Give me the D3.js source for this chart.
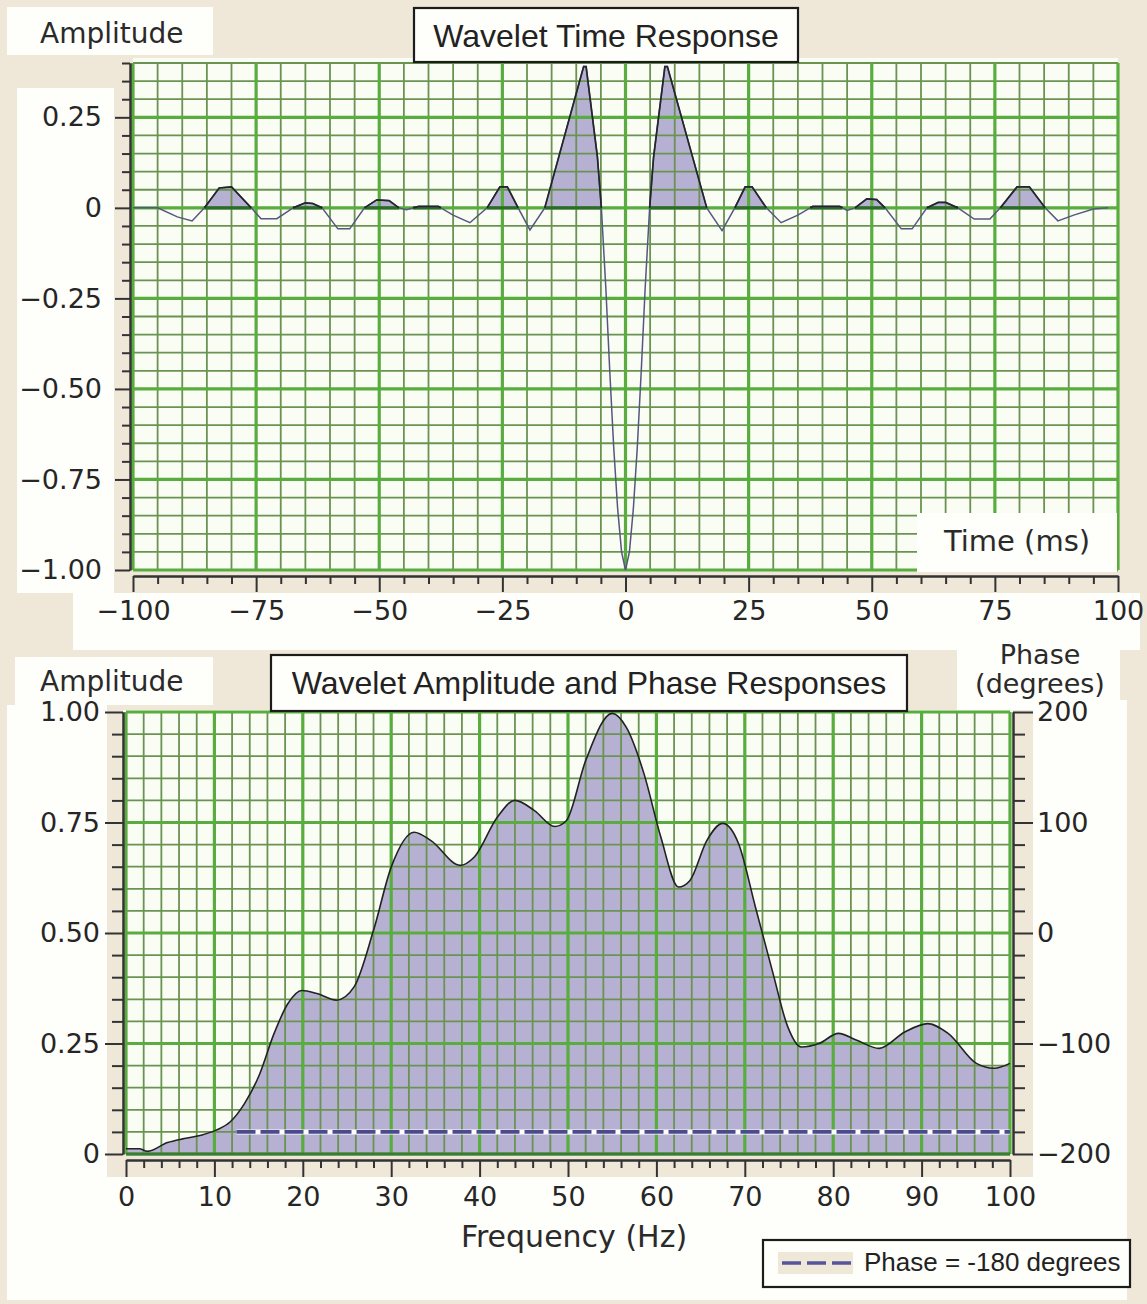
<!DOCTYPE html>
<html>
<head>
<meta charset="utf-8">
<script src="https://cdn.jsdelivr.net/npm/d3@7"></script>
<style>
  html, body { margin: 0; padding: 0; background: #efe8d8; }
  svg { display: block; }
</style>
</head>
<body>
<svg id="chart" width="1147" height="1304"></svg>
<script>
// ---- Wavelet time response (ms, amplitude) ----
const timeMs = [-100, -95, -91, -88, -85.5, -82.5, -80, -76, -74, -70.8, -67.5, -65, -63.5, -61.6,
  -58.4, -56, -53, -50.5, -48, -46, -44.5, -42, -38, -35, -31.6, -28.1, -25.5, -24, -21.8,
  -19.4, -16.4, -8.5, -8, -5.7, -4.9, -4, -3.2, -2.4, -1.6, -0.8, 0,
  0.8, 1.6, 2.4, 3.2, 4, 4.9, 5.7, 8, 8.5, 16.5, 19.6, 22.2, 24.3, 25.7, 28.6, 31.6, 35, 38,
  43.5, 45, 46.6, 49, 51, 52.7, 56, 58.2, 61.2, 63.5, 65, 67.5, 70.8, 74, 76.1, 79.5, 82,
  85.2, 87.8, 91, 95, 98];
const timeAmp = [0, 0, -0.025, -0.036, 0, 0.055, 0.058, 0, -0.03, -0.03, 0, 0.014, 0.012, 0,
  -0.058, -0.058, 0, 0.022, 0.02, 0, -0.005, 0.004, 0.004, -0.02, -0.041, 0, 0.058, 0.058, 0,
  -0.061, 0, 0.39, 0.39, 0.14, 0, -0.22, -0.45, -0.66, -0.83, -0.95, -1.0,
  -0.95, -0.83, -0.66, -0.45, -0.22, 0, 0.14, 0.39, 0.39, 0, -0.063, 0, 0.058, 0.058, 0, -0.041, -0.02, 0.004,
  0.004, -0.007, 0, 0.025, 0.023, 0, -0.058, -0.058, 0, 0.015, 0.015, 0, -0.031, -0.031, 0, 0.058, 0.058,
  0, -0.036, -0.02, -0.003, 0];

// ---- Wavelet amplitude spectrum (Hz, normalised amplitude) ----
const freqHz = [0, 1.5, 2.4, 4.7, 6.6, 8.6, 10.2, 11.8, 13.4, 15.1, 16.7, 18.3, 19.9, 21.6, 23.8,
  25.8, 28, 30, 32.6, 34.5, 37.8, 39.4, 42, 44, 46.2, 48.5, 49.8, 52, 55, 56.6, 58.6, 60.5,
  62.5, 63.8, 65.7, 67.5, 69.3, 71.2, 73.2, 74.8, 76.4, 78.4, 80.6, 82.6, 85.2, 88.1, 90.7,
  93, 96.2, 98.2, 100];
const freqAmp = [0.012, 0.012, 0.006, 0.026, 0.035, 0.043, 0.054, 0.073, 0.114, 0.18, 0.27, 0.34,
  0.37, 0.363, 0.348, 0.378, 0.506, 0.649, 0.728, 0.709, 0.653, 0.672, 0.762, 0.80, 0.777,
  0.741, 0.754, 0.89, 0.997, 0.965, 0.86, 0.717, 0.604, 0.619, 0.709, 0.748, 0.702, 0.559,
  0.408, 0.291, 0.242, 0.25, 0.273, 0.258, 0.239, 0.276, 0.295, 0.273, 0.205, 0.194, 0.205];

// ---- Phase spectrum (constant) ----
const phaseFreq = [12.5, 100];
const phaseDeg = [-180, -180];

// ---- Tick values and labels ----
const timeTicks = [-100, -75, -50, -25, 0, 25, 50, 75, 100];
const timeTickLabels = ["\u2212100", "\u221275", "\u221250", "\u221225", "0", "25", "50", "75", "100"];
const topAmpTicks = [0.25, 0, -0.25, -0.5, -0.75, -1.0];
const topAmpLabels = ["0.25", "0", "\u22120.25", "\u22120.50", "\u22120.75", "\u22121.00"];
const freqTicks = [0, 10, 20, 30, 40, 50, 60, 70, 80, 90, 100];
const freqTickLabels = ["0", "10", "20", "30", "40", "50", "60", "70", "80", "90", "100"];
const botAmpTicks = [0, 0.25, 0.5, 0.75, 1.0];
const botAmpLabels = ["0", "0.25", "0.50", "0.75", "1.00"];
const phaseTicks = [-200, -100, 0, 100, 200];
const phaseTickLabels = ["\u2212200", "\u2212100", "0", "100", "200"];

// ---- Styling ----
const BEIGE = "#efe8d8", WHITE = "#fefefb", PLOT_BG = "#fafdf4";
const MINOR = "#6a9352", MAJOR = "#58ad3e";
const FILL = "#b6b0d2";
const NUM_FONT = "'DejaVu Sans', sans-serif";
const TITLE_FONT = "'Liberation Sans', Arial, sans-serif";

const svg = d3.select("#chart");
svg.append("rect").attr("width", 1147).attr("height", 1304).attr("fill", BEIGE);

// white label panels
const panels = [
  [7, 7, 206, 48], [17, 88, 97, 505], [73, 593, 1067, 57],
  [15, 657, 198, 48], [7, 705, 100, 472], [957, 637, 163, 73],
  [1033, 700, 94, 477], [7, 1177, 1120, 123]
];
svg.selectAll("rect.panel").data(panels).enter().append("rect")
  .attr("class", "panel")
  .attr("x", d => d[0]).attr("y", d => d[1]).attr("width", d => d[2]).attr("height", d => d[3])
  .attr("fill", WHITE);

// ---- scales ----
const xT = d3.scaleLinear().domain([-100, 100]).range([133, 1118]);
const yT = d3.scaleLinear().domain([-1, 0.4]).range([570, 63]);
const xB = d3.scaleLinear().domain([0, 100]).range([126, 1010]);
const yB = d3.scaleLinear().domain([0, 1]).range([1154, 712]);
const yP = d3.scaleLinear().domain([-200, 200]).range([1154, 712]);

function drawGrid(g, xs, ys, xVals, yVals, isMajorX, isMajorY) {
  const [x0, x1] = xs.range(), [y0, y1] = ys.range();
  const yTop = Math.min(y0, y1), yBot = Math.max(y0, y1);
  const minorX = xVals.filter(v => !isMajorX(v)), majorX = xVals.filter(isMajorX);
  const minorY = yVals.filter(v => !isMajorY(v)), majorY = yVals.filter(isMajorY);
  g.selectAll("line.mh").data(minorY).enter().append("line")
    .attr("x1", x0).attr("x2", x1).attr("y1", d => ys(d)).attr("y2", d => ys(d))
    .attr("stroke", MINOR).attr("stroke-width", 1.8);
  g.selectAll("line.mv").data(minorX).enter().append("line")
    .attr("y1", yTop).attr("y2", yBot).attr("x1", d => xs(d)).attr("x2", d => xs(d))
    .attr("stroke", MINOR).attr("stroke-width", 1.8);
  g.selectAll("line.Mh").data(majorY).enter().append("line")
    .attr("x1", x0).attr("x2", x1).attr("y1", d => ys(d)).attr("y2", d => ys(d))
    .attr("stroke", MAJOR).attr("stroke-width", 3.2);
  g.selectAll("line.Mv").data(majorX).enter().append("line")
    .attr("y1", yTop).attr("y2", yBot).attr("x1", d => xs(d)).attr("x2", d => xs(d))
    .attr("stroke", MAJOR).attr("stroke-width", 3.2);
}

const near = (v, step) => Math.abs(v / step - Math.round(v / step)) < 1e-6;

const axisStyle = (g) => {
  g.select(".domain").attr("stroke", "#333").attr("stroke-width", 2);
  g.selectAll(".tick line").attr("stroke", "#333").attr("stroke-width", 2);
  g.selectAll("text").attr("font-family", NUM_FONT).attr("font-size", 27).attr("fill", "#262626");
};

// =================== TOP: time response ===================
const gTime = svg.append("g");
gTime.append("rect").attr("x", 133).attr("y", 58).attr("width", 985).attr("height", 512).attr("fill", PLOT_BG);

const pts = timeMs.map((t, i) => ({ t, v: timeAmp[i] }));
// split the trace into positive lobes, closing each at its zero crossings
const lobes = [];
let cur = null;
const cross = (a, b) => ({ t: a.t + (b.t - a.t) * (0 - a.v) / (b.v - a.v), v: 0 });
pts.forEach((p, i) => {
  const prev = pts[i - 1];
  if (p.v > 0) {
    if (!cur) { cur = []; if (prev) cur.push(prev.v < 0 ? cross(prev, p) : prev); }
    cur.push(p);
  } else if (cur) {
    cur.push(p.v < 0 ? cross(prev, p) : p);
    lobes.push(cur); cur = null;
  }
});
if (cur) lobes.push(cur);

const lobeArea = d3.area().x(d => xT(d.t)).y0(yT(0)).y1(d => yT(d.v));
gTime.selectAll("path.lobe").data(lobes).enter().append("path")
  .attr("d", lobeArea).attr("fill", FILL);

drawGrid(gTime.append("g"), xT, yT, d3.range(-100, 100.001, 5), d3.range(-1, 0.4001, 0.05).map(v => +v.toFixed(2)),
  v => near(v, 25), v => near(v, 0.25));

// lobe bases and outlines
gTime.selectAll("line.base").data(lobes).enter().append("line")
  .attr("x1", d => xT(d[0].t)).attr("x2", d => xT(d[d.length - 1].t))
  .attr("y1", yT(0)).attr("y2", yT(0))
  .attr("stroke", "#2e6a2c").attr("stroke-width", 3.2);

const traceLine = d3.line().x(d => xT(d.t)).y(d => yT(d.v));
gTime.append("path").attr("d", traceLine(pts)).attr("fill", "none")
  .attr("stroke", "#55577f").attr("stroke-width", 1.5);
gTime.selectAll("path.lobeEdge").data(lobes).enter().append("path")
  .attr("d", traceLine).attr("fill", "none").attr("stroke", "#23262a").attr("stroke-width", 1.7);

// axes
const topMinorY = d3.range(-1, 0.4001, 0.05).map(v => +v.toFixed(2)).filter(v => !near(v, 0.25));
gTime.append("g").attr("transform", "translate(130,0)")
  .call(d3.axisLeft(yT).tickValues(topMinorY).tickSize(8).tickSizeOuter(0).tickFormat(""))
  .call(axisStyle);
gTime.append("g").attr("transform", "translate(130,0)")
  .call(d3.axisLeft(yT).tickValues(topAmpTicks).tickSize(15).tickSizeOuter(0).tickPadding(13)
    .tickFormat((d, i) => topAmpLabels[i]))
  .call(axisStyle);

const topMinorX = d3.range(-100, 100.001, 5).filter(v => !near(v, 25));
gTime.append("g").attr("transform", "translate(0,576)")
  .call(d3.axisBottom(xT).tickValues(topMinorX).tickSize(8).tickSizeOuter(0).tickFormat(""))
  .call(axisStyle);
gTime.append("g").attr("transform", "translate(0,576)")
  .call(d3.axisBottom(xT).tickValues(timeTicks).tickSize(16).tickSizeOuter(0).tickPadding(9)
    .tickFormat((d, i) => timeTickLabels[i]))
  .call(axisStyle);

// labels
gTime.append("text").attr("x", 40).attr("y", 43).text("Amplitude")
  .attr("font-family", NUM_FONT).attr("font-size", 28).attr("fill", "#2a2a2a");
gTime.append("rect").attr("x", 414).attr("y", 8).attr("width", 384).attr("height", 54)
  .attr("fill", WHITE).attr("stroke", "#1c1c1c").attr("stroke-width", 2.2);
gTime.append("text").attr("x", 606).attr("y", 47).attr("text-anchor", "middle")
  .text("Wavelet Time Response").attr("font-family", TITLE_FONT).attr("font-size", 32).attr("fill", "#222");
gTime.append("rect").attr("x", 917).attr("y", 513).attr("width", 200).attr("height", 59).attr("fill", WHITE);
gTime.append("text").attr("x", 1017).attr("y", 551).attr("text-anchor", "middle")
  .text("Time (ms)").attr("font-family", NUM_FONT).attr("font-size", 29).attr("fill", "#2a2a2a");

// =================== BOTTOM: amplitude & phase spectra ===================
const gSpec = svg.append("g");
gSpec.append("rect").attr("x", 123).attr("y", 710).attr("width", 890).attr("height", 444).attr("fill", PLOT_BG);

const spec = freqHz.map((f, i) => ({ f, a: freqAmp[i] }));
const specArea = d3.area().x(d => xB(d.f)).y0(yB(0)).y1(d => yB(d.a)).curve(d3.curveMonotoneX);
const specLine = d3.line().x(d => xB(d.f)).y(d => yB(d.a)).curve(d3.curveMonotoneX);
gSpec.append("path").attr("d", specArea(spec)).attr("fill", FILL);

drawGrid(gSpec.append("g"), xB, yB, d3.range(0, 100.001, 2), d3.range(0, 1.0001, 0.05).map(v => +v.toFixed(2)),
  v => near(v, 10), v => near(v, 0.25));
gSpec.append("line").attr("x1", 126).attr("x2", 1010).attr("y1", yB(0)).attr("y2", yB(0))
  .attr("stroke", "#3d7a35").attr("stroke-width", 3.2);

gSpec.append("path").attr("d", specLine(spec)).attr("fill", "none")
  .attr("stroke", "#222").attr("stroke-width", 1.6);

const phasePts = phaseFreq.map((f, i) => ({ f, p: phaseDeg[i] }));
const phaseLine = d3.line().x(d => xB(d.f)).y(d => yP(d.p));
gSpec.append("path").attr("d", phaseLine(phasePts)).attr("fill", "none")
  .attr("stroke", "#ffffff").attr("stroke-width", 5);
gSpec.append("path").attr("d", phaseLine(phasePts)).attr("fill", "none")
  .attr("stroke", "#4a4a8c").attr("stroke-width", 3.8).attr("stroke-dasharray", "19,5");

// axes
const botMinorY = d3.range(0, 1.0001, 0.05).map(v => +v.toFixed(2)).filter(v => !near(v, 0.25));
gSpec.append("g").attr("transform", "translate(123,0)")
  .call(d3.axisLeft(yB).tickValues(botMinorY).tickSize(11).tickSizeOuter(0).tickFormat(""))
  .call(axisStyle);
gSpec.append("g").attr("transform", "translate(123,0)")
  .call(d3.axisLeft(yB).tickValues(botAmpTicks).tickSize(18).tickSizeOuter(0).tickPadding(5)
    .tickFormat((d, i) => botAmpLabels[i]))
  .call(axisStyle);

const botMinorX = d3.range(0, 100.001, 2).filter(v => !near(v, 10));
gSpec.append("g").attr("transform", "translate(0,1160)")
  .call(d3.axisBottom(xB).tickValues(botMinorX).tickSize(8).tickSizeOuter(0).tickFormat(""))
  .call(axisStyle);
gSpec.append("g").attr("transform", "translate(0,1160)")
  .call(d3.axisBottom(xB).tickValues(freqTicks).tickSize(17).tickSizeOuter(0).tickPadding(10)
    .tickFormat((d, i) => freqTickLabels[i]))
  .call(axisStyle);

const phaseMinor = d3.range(-200, 200.001, 20).filter(v => !near(v, 100));
gSpec.append("g").attr("transform", "translate(1013,0)")
  .call(d3.axisRight(yP).tickValues(phaseMinor).tickSize(12).tickSizeOuter(0).tickFormat(""))
  .call(axisStyle);
gSpec.append("g").attr("transform", "translate(1013,0)")
  .call(d3.axisRight(yP).tickValues(phaseTicks).tickSize(20).tickSizeOuter(0).tickPadding(4)
    .tickFormat((d, i) => phaseTickLabels[i]))
  .call(axisStyle);

// labels
gSpec.append("text").attr("x", 40).attr("y", 691).text("Amplitude")
  .attr("font-family", NUM_FONT).attr("font-size", 28).attr("fill", "#2a2a2a");
gSpec.append("rect").attr("x", 271).attr("y", 655).attr("width", 636).attr("height", 56)
  .attr("fill", WHITE).attr("stroke", "#1c1c1c").attr("stroke-width", 2.2);
gSpec.append("text").attr("x", 589).attr("y", 694).attr("text-anchor", "middle")
  .text("Wavelet Amplitude and Phase Responses").attr("font-family", TITLE_FONT).attr("font-size", 32).attr("fill", "#222");
gSpec.append("text").attr("x", 1040).attr("y", 664).attr("text-anchor", "middle")
  .text("Phase").attr("font-family", NUM_FONT).attr("font-size", 27).attr("fill", "#2a2a2a");
gSpec.append("text").attr("x", 1040).attr("y", 693).attr("text-anchor", "middle")
  .text("(degrees)").attr("font-family", NUM_FONT).attr("font-size", 27).attr("fill", "#2a2a2a");
gSpec.append("text").attr("x", 574).attr("y", 1247).attr("text-anchor", "middle")
  .text("Frequency (Hz)").attr("font-family", NUM_FONT).attr("font-size", 30).attr("fill", "#2a2a2a");

// legend
const gLegend = svg.append("g");
gLegend.append("rect").attr("x", 763).attr("y", 1240).attr("width", 367).attr("height", 47)
  .attr("fill", WHITE).attr("stroke", "#1c1c1c").attr("stroke-width", 2.2);
gLegend.append("rect").attr("x", 778).attr("y", 1252).attr("width", 75).attr("height", 22).attr("fill", BEIGE);
gLegend.append("line").attr("x1", 782).attr("x2", 851).attr("y1", 1263).attr("y2", 1263)
  .attr("stroke", "#55559a").attr("stroke-width", 3.6).attr("stroke-dasharray", "19,6");
gLegend.append("text").attr("x", 864).attr("y", 1271).text("Phase = -180 degrees")
  .attr("font-family", TITLE_FONT).attr("font-size", 26).attr("fill", "#222");
</script>
</body>
</html>
